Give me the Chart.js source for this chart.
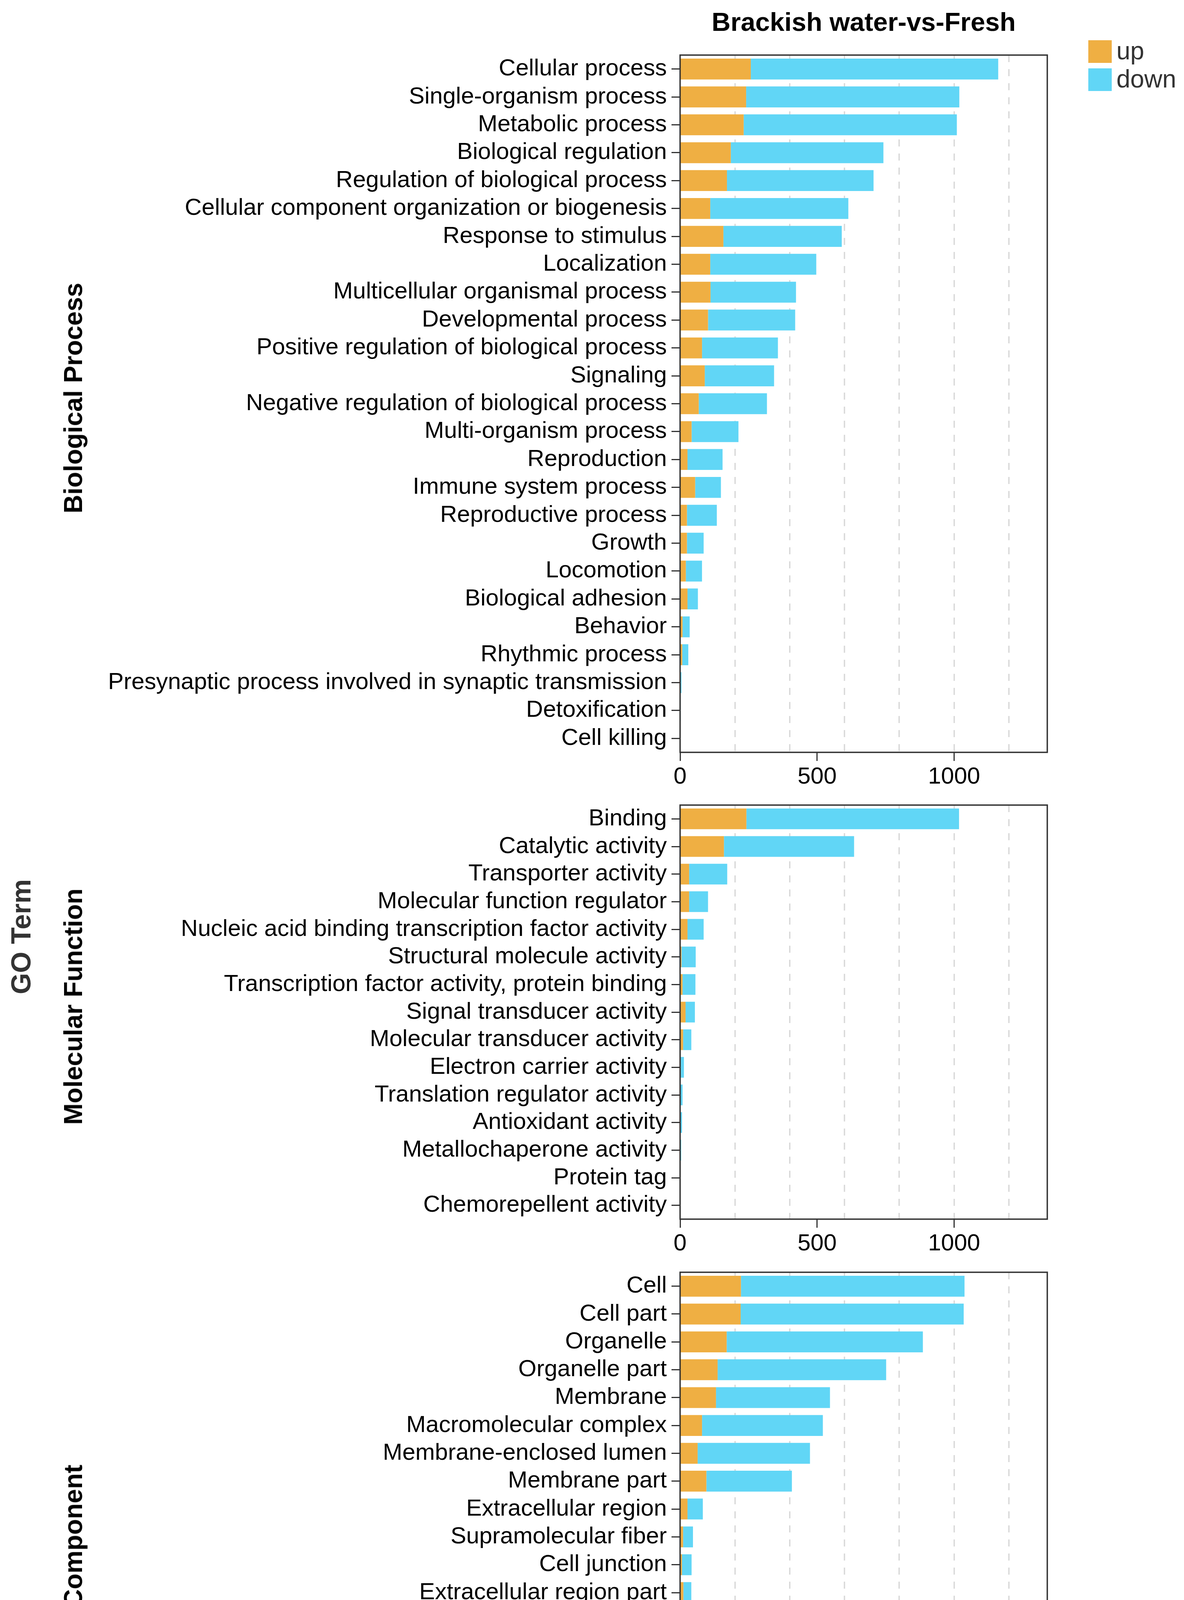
<!DOCTYPE html>
<html>
<head>
<meta charset="utf-8">
<title>Brackish water-vs-Fresh</title>
<script src="https://cdn.jsdelivr.net/npm/chart.js@4.4.1/dist/chart.umd.min.js"></script>
<style>
  body { margin: 0; background: #fff; font-family: "Liberation Sans", Arial, sans-serif; }
  #page { position: relative; width: 3031px; height: 5260px; overflow: hidden; background: #fff; }
  canvas { position: absolute; left: 0; }
  .txt { position: absolute; line-height: 1; white-space: nowrap; }
  .rot { transform: translate(-50%, -50%) rotate(-90deg); font-weight: bold; }
  #title { left: 1741px; width: 940px; top: 22px; text-align: center; font-size: 67px; font-weight: bold; color: #000; }
  #xtitle { left: 1741px; width: 940px; top: 5151px; text-align: center; font-size: 72px; font-weight: bold; color: #333; }
  #ytitle { left: 54px; top: 2398px; font-size: 70px; color: #333; }
  .facet { left: 187px; font-size: 66px; color: #000; }
  .key { position: absolute; left: 2786px; width: 60px; height: 58px; }
  .keytxt { left: 2858px; font-size: 64px; color: #333; }
</style>
</head>
<body>
<div id="page">
  <div class="txt" id="title">Brackish water-vs-Fresh</div>
  <div class="txt rot" id="ytitle">GO Term</div>
  <div class="txt" id="xtitle">Gene number</div>
</div>
<script>
//data

const seriesNames = ['up', 'down'];
const seriesColors = ['#EFAF43', '#61D6F6'];

const bpTerms = ['Cellular process', 'Single-organism process', 'Metabolic process', 'Biological regulation',
  'Regulation of biological process', 'Cellular component organization or biogenesis', 'Response to stimulus',
  'Localization', 'Multicellular organismal process', 'Developmental process',
  'Positive regulation of biological process', 'Signaling', 'Negative regulation of biological process',
  'Multi-organism process', 'Reproduction', 'Immune system process', 'Reproductive process', 'Growth',
  'Locomotion', 'Biological adhesion', 'Behavior', 'Rhythmic process',
  'Presynaptic process involved in synaptic transmission', 'Detoxification', 'Cell killing'];
const bpUp = [258, 241, 232, 185, 171, 110, 158, 110, 111, 102, 80, 90, 68, 42, 27, 55, 25, 25, 21, 27, 9, 8, 1, 0, 0];
const bpDown = [903, 778, 778, 557, 535, 504, 432, 387, 312, 318, 277, 253, 249, 171, 128, 94, 109, 61, 59, 38, 26, 22, 4, 2, 1];

const mfTerms = ['Binding', 'Catalytic activity', 'Transporter activity', 'Molecular function regulator',
  'Nucleic acid binding transcription factor activity', 'Structural molecule activity',
  'Transcription factor activity, protein binding', 'Signal transducer activity', 'Molecular transducer activity',
  'Electron carrier activity', 'Translation regulator activity', 'Antioxidant activity',
  'Metallochaperone activity', 'Protein tag', 'Chemorepellent activity'];
const mfUp = [242, 160, 33, 33, 27, 5, 9, 20, 11, 2, 1, 1, 0, 0, 0];
const mfDown = [776, 475, 139, 69, 59, 52, 47, 34, 30, 12, 8, 6, 4, 1, 1];

const ccTerms = ['Cell', 'Cell part', 'Organelle', 'Organelle part', 'Membrane', 'Macromolecular complex',
  'Membrane-enclosed lumen', 'Membrane part', 'Extracellular region', 'Supramolecular fiber', 'Cell junction',
  'Extracellular region part', 'Synapse', 'Synapse part', 'Extracellular matrix', 'Virion', 'Virion part',
  'Nucleoid', 'Other organism part', 'Other organism', 'Symplast', 'Extracellular matrix component',
  'Viral occlusion body'];
const ccUp = [222, 221, 170, 137, 131, 80, 64, 96, 27, 11, 7, 12, 2, 2, 3, 2, 2, 1, 0, 0, 0, 0, 0];
const ccDown = [816, 814, 716, 615, 416, 441, 410, 312, 56, 36, 35, 29, 34, 25, 12, 9, 9, 9, 5, 5, 4, 1, 1];

const xMax = 1340;
const xTicks = [0, 500, 1000];
const gridTicks = [200, 400, 600, 800, 1000, 1200];

//layout

const fontFamily = '"Liberation Sans", Arial, sans-serif';
const plotLeft = 1741;
const plotRight = 2681;
const pageWidth = 3031;
const rowH = 72.5;
const padTop = 20;
const axisH = 120;
const page = document.getElementById('page');

const panels = [
  { name: 'Biological Process', terms: bpTerms, up: bpUp, down: bpDown, top: 113 },
  { name: 'Molecular Function', terms: mfTerms, up: mfUp, down: mfDown, top: 2033 },
  { name: 'Cellular Component', terms: ccTerms, up: ccUp, down: ccDown, top: 3229 }
];

// panel border, drawn over the bars like ggplot's panel.border
const framePlugin = {
  id: 'frame',
  afterDraw(chart) {
    const a = chart.chartArea;
    const c = chart.ctx;
    c.save();
    c.strokeStyle = '#333';
    c.lineWidth = 3.5;
    c.strokeRect(a.left, a.top, a.right - a.left, a.bottom - a.top);
    c.restore();
  }
};

//actions

panels.forEach(drawPanel);
drawLegend();

//functions

function drawPanel(p) {
  const canvas = document.createElement('canvas');
  const h = Math.round(padTop + p.terms.length * rowH + axisH);
  canvas.width = pageWidth;
  canvas.height = h;
  canvas.style.width = pageWidth + 'px';
  canvas.style.height = h + 'px';
  canvas.style.top = (p.top - padTop) + 'px';
  page.appendChild(canvas);

  const label = document.createElement('div');
  label.className = 'txt rot facet';
  label.textContent = p.name;
  label.style.top = (p.top + p.terms.length * rowH / 2) + 'px';
  page.appendChild(label);

  new Chart(canvas, {
    type: 'bar',
    data: {
      labels: p.terms,
      datasets: seriesNames.map((name, i) => ({
        label: name,
        data: i === 0 ? p.up : p.down,
        backgroundColor: seriesColors[i],
        borderWidth: 0,
        barPercentage: 0.75,
        categoryPercentage: 1
      }))
    },
    options: {
      indexAxis: 'y',
      responsive: false,
      animation: false,
      devicePixelRatio: 1,
      layout: { padding: { top: padTop, right: pageWidth - plotRight, left: 0, bottom: 0 } },
      plugins: { legend: { display: false }, tooltip: { enabled: false } },
      scales: {
        y: {
          stacked: true,
          offset: true,
          grid: { display: true, offset: false, drawOnChartArea: false, drawTicks: true,
                  tickLength: 22, tickWidth: 3, tickColor: '#333' },
          border: { display: false },
          ticks: { color: '#000', font: { family: fontFamily, size: 60 }, padding: 12, autoSkip: false },
          afterFit(s) { s.width = plotLeft; }
        },
        x: {
          stacked: true,
          min: 0,
          max: xMax,
          grid: { drawOnChartArea: false, tickLength: 22, tickWidth: 3, tickColor: '#333' },
          border: { display: false },
          ticks: { color: '#000', maxRotation: 0, autoSkip: false,
                   font: { family: fontFamily, size: 60 }, padding: 5,
                   callback: v => String(v) },
          afterBuildTicks(s) { s.ticks = xTicks.map(v => ({ value: v })); },
          afterFit(s) { s.height = axisH; }
        },
        xg: {
          type: 'linear',
          position: 'bottom',
          min: 0,
          max: xMax,
          grid: { color: '#d9d9d9', lineWidth: 3.5, drawTicks: false, tickLength: 0 },
          border: { display: false, dash: [18, 18] },
          ticks: { display: false },
          afterBuildTicks(s) { s.ticks = gridTicks.map(v => ({ value: v })); },
          afterFit(s) { s.height = 0; }
        }
      }
    },
    plugins: [framePlugin]
  });
}

function drawLegend() {
  for (let i = 0; i < seriesNames.length; i++) {
    const key = document.createElement('div');
    key.className = 'key';
    key.style.top = (103 + i * 72) + 'px';
    key.style.backgroundColor = seriesColors[i];
    page.appendChild(key);
    const txt = document.createElement('div');
    txt.className = 'txt keytxt';
    txt.style.top = (98 + i * 72) + 'px';
    txt.textContent = seriesNames[i];
    page.appendChild(txt);
  }
}
</script>
</body>
</html>
